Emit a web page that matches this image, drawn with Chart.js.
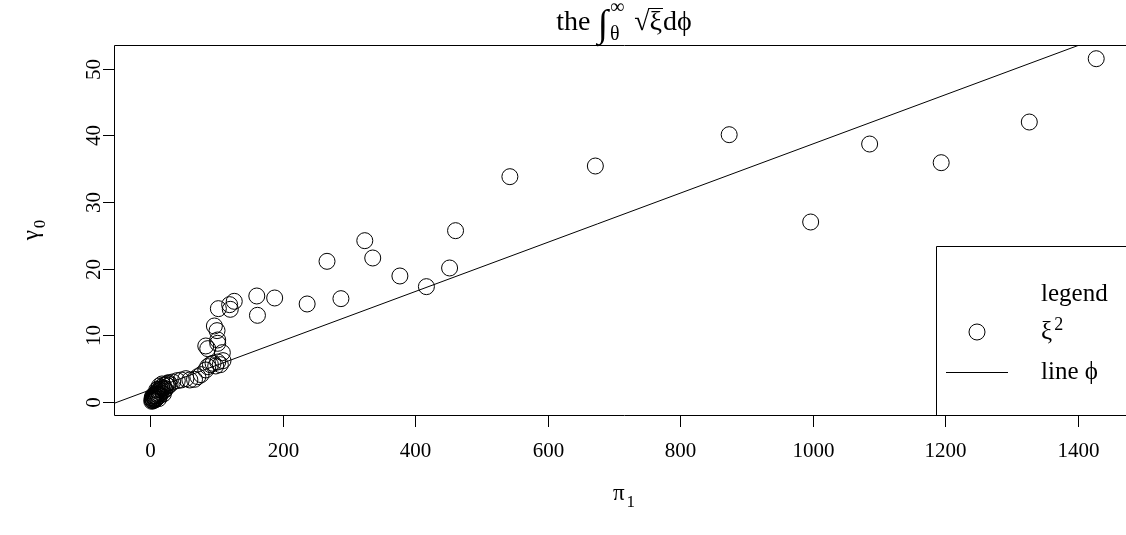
<!DOCTYPE html>
<html>
<head>
<meta charset="utf-8">
<script src="https://cdn.jsdelivr.net/npm/chart.js@4/dist/chart.umd.min.js"></script>
<style>
  html, body { margin: 0; padding: 0; background: #fff; overflow: hidden; }
  #wrap { width: 1126px; height: 535px; overflow: hidden; position: relative; }
  canvas { display: block; }
</style>
</head>
<body>
<div id="wrap"><canvas id="myChart" width="1150" height="535"></canvas></div>
<script>
(function(){

	"use strict";

	// scatter values (pi_1 vs gamma_0)
	const xVals = [2.5, 3, 3.5, 4, 4.5, 5, 6, 6, 7, 8, 9, 10, 11, 12, 14, 15, 17, 19, 20, 24,
		3, 5, 7, 9, 11, 13, 16, 18, 22, 4, 8, 12, 15, 21, 26,
		10, 14, 18, 23, 27, 30, 13, 20,
		28, 34, 41, 47, 54, 60, 67, 72, 77, 84, 87, 91, 95, 99, 102, 106, 110, 109, 84, 87,
		102, 102, 101, 97, 103, 120, 121, 127, 161, 162, 188, 237, 267, 288, 324, 336, 377,
		417, 452, 461, 543, 672, 874, 997, 1086, 1194, 1327, 1428];
	const yVals = [0.1, 0.3, 0.2, 0.5, 0.4, 0.8, 0.6, 1.0, 0.3, 1.2, 0.9, 1.4, 0.7, 1.6, 1.2, 1.9, 2.2, 1.6, 2.5, 2.6,
		0.6, 0.2, 0.9, 0.5, 1.1, 0.9, 1.4, 2.0, 1.8, 0.9, 0.4, 1.9, 1.0, 2.1, 2.8,
		1.8, 2.4, 2.7, 1.9, 2.4, 2.6, 0.5, 1.2,
		2.9, 3.0, 3.2, 3.3, 3.5, 3.3, 3.4, 3.8, 4.1, 4.8, 5.3, 5.6, 5.8, 5.4, 6.0, 5.6, 6.2, 7.4, 8.4, 8.0,
		8.8, 9.3, 10.7, 11.4, 14.0, 14.6, 13.9, 15.1, 15.9, 13.0, 15.6, 14.7, 21.1, 15.5, 24.2, 21.6, 18.9,
		17.3, 20.1, 25.7, 33.8, 35.4, 40.1, 27.0, 38.7, 35.9, 42.0, 51.5];

	// fitted line, two end points
	const lineX = [-60, 1500];
	const lineY = [-0.41, 57.15];

	// axis ticks
	const xTicks = [0, 200, 400, 600, 800, 1000, 1200, 1400];
	const yTicks = [0, 10, 20, 30, 40, 50];

	const FONT = '"Liberation Serif", "DejaVu Serif", serif';

	// R style 4% padding around data
	function padRange(v){
		const lo = Math.min.apply(null, v), hi = Math.max.apply(null, v);
		const d = (hi - lo) * 0.04;
		return [lo - d, hi + d];
	}
	const xr = padRange(xVals);
	const yr = padRange(yVals);

	const pts = xVals.map(function(x, i){ return {x: x, y: yVals[i]}; });
	const linePts = lineX.map(function(x, i){ return {x: x, y: lineY[i]}; });

	// text followed by a small index, up (sup) or down
	function scripted(ctx, base, idx, x, y, size, align, sup){
		const small = Math.round(size * 0.72);
		ctx.font = size + "px " + FONT;
		const w1 = ctx.measureText(base).width;
		ctx.font = small + "px " + FONT;
		const w2 = ctx.measureText(idx).width;
		const total = w1 + w2 + 2;
		const x0 = align === "center" ? x - total / 2 : x;
		ctx.textAlign = "left";
		ctx.font = size + "px " + FONT;
		ctx.fillText(base, x0, y);
		ctx.font = small + "px " + FONT;
		ctx.fillText(idx, x0 + w1 + 2, sup ? y - size * 0.38 : y + size * 0.3);
		ctx.font = size + "px " + FONT;
	}

	const frame = {
		id: "frame",
		afterDraw: function(chart){
			const ctx = chart.ctx;
			const a = chart.chartArea;
			const xs = chart.scales.x, ys = chart.scales.y;
			ctx.save();
			ctx.strokeStyle = "#000";
			ctx.fillStyle = "#000";
			ctx.lineWidth = 1;

			// plot box
			ctx.beginPath();
			ctx.rect(Math.round(a.left) + 0.5, Math.round(a.top) + 0.5,
				Math.round(a.right - a.left), Math.round(a.bottom - a.top));
			ctx.stroke();

			// x axis
			ctx.font = "21px " + FONT;
			ctx.textAlign = "center";
			ctx.textBaseline = "middle";
			xTicks.forEach(function(t){
				const px = Math.round(xs.getPixelForValue(t)) + 0.5;
				ctx.beginPath();
				ctx.moveTo(px, a.bottom);
				ctx.lineTo(px, a.bottom + 12);
				ctx.stroke();
				ctx.fillText(String(t), px, a.bottom + 36);
			});

			// y axis, labels turned
			yTicks.forEach(function(t){
				const py = Math.round(ys.getPixelForValue(t)) + 0.5;
				ctx.beginPath();
				ctx.moveTo(a.left - 11, py);
				ctx.lineTo(a.left, py);
				ctx.stroke();
				ctx.save();
				ctx.translate(a.left - 20, py);
				ctx.rotate(-Math.PI / 2);
				ctx.fillText(String(t), 0, 0);
				ctx.restore();
			});

			// axis titles
			ctx.textBaseline = "alphabetic";
			scripted(ctx, "π", "1", (a.left + a.right) / 2, a.bottom + 85, 23, "center", false);
			ctx.save();
			ctx.translate(a.left - 76, (a.top + a.bottom) / 2);
			ctx.rotate(-Math.PI / 2);
			scripted(ctx, "γ", "0", 0, 0, 23, "center", false);
			ctx.restore();

			// title: the ∫θ^∞ √ξ dϕ
			const cx = (a.left + a.right) / 2;
			const by = 30;
			ctx.textAlign = "left";
			ctx.font = "28px " + FONT;
			const wThe = ctx.measureText("the ").width;
			ctx.font = "38px " + FONT;
			const wInt = ctx.measureText("∫").width;
			ctx.font = "20px " + FONT;
			const wLim = Math.max(ctx.measureText("θ").width, ctx.measureText("∞").width);
			ctx.font = "28px " + FONT;
			const wRoot = ctx.measureText("√").width;
			const wXi = ctx.measureText("ξ").width;
			const wD = ctx.measureText("dϕ").width;
			const total = wThe + wInt + 2 + wLim + 10 + wRoot + wXi + 1 + wD;
			let x = cx - total / 2;
			ctx.font = "28px " + FONT;
			ctx.fillText("the ", x, by); x += wThe;
			ctx.font = "38px " + FONT;
			ctx.fillText("∫", x, by + 6); x += wInt + 2;
			ctx.font = "20px " + FONT;
			ctx.fillText("∞", x, by - 17);
			ctx.fillText("θ", x, by + 10);
			x += wLim + 10;
			ctx.font = "28px " + FONT;
			ctx.fillText("√", x, by); x += wRoot;
			ctx.beginPath();
			ctx.moveTo(x - 1, by - 21.5);
			ctx.lineTo(x + wXi + 1, by - 21.5);
			ctx.stroke();
			ctx.fillText("ξ", x, by); x += wXi + 1;
			ctx.fillText("dϕ", x, by);

			// legend, bottom right corner of the plot
			const lx = 936, ly = 246;
			ctx.beginPath();
			ctx.rect(lx + 0.5, ly + 0.5, a.right - lx, a.bottom - ly);
			ctx.stroke();
			ctx.textBaseline = "alphabetic";
			ctx.textAlign = "left";
			ctx.font = "25px " + FONT;
			ctx.fillText("legend", 1041, 301);
			scripted(ctx, "ξ", "2", 1041, 339, 25, "left", true);
			ctx.beginPath();
			ctx.arc(977, 332, 8, 0, Math.PI * 2);
			ctx.stroke();
			ctx.beginPath();
			ctx.moveTo(946, 372.5);
			ctx.lineTo(1008, 372.5);
			ctx.stroke();
			ctx.font = "25px " + FONT;
			ctx.fillText("line ϕ", 1041, 379);

			ctx.restore();
		}
	};

	const config = {
		type: "scatter",
		data: {
			datasets: [{
				label: "ξ²",
				data: pts,
				pointStyle: "circle",
				pointRadius: 8,
				pointHoverRadius: 8,
				borderColor: "#000",
				borderWidth: 1,
				backgroundColor: "rgba(0,0,0,0)"
			},
			{
				type: "line",
				label: "line ϕ",
				data: linePts,
				borderColor: "#000",
				borderWidth: 1,
				pointRadius: 0,
				fill: false
			}]
		},
		options: {
			responsive: false,
			animation: false,
			events: [],
			layout: { padding: { left: 114, right: 16, top: 45, bottom: 120 } },
			plugins: { legend: { display: false }, tooltip: { enabled: false } },
			scales: {
				x: { type: "linear", min: xr[0], max: xr[1], display: false },
				y: { type: "linear", min: yr[0], max: yr[1], display: false }
			}
		},
		plugins: [frame]
	};

	new Chart(document.getElementById("myChart"), config);

})();
</script>
</body>
</html>
